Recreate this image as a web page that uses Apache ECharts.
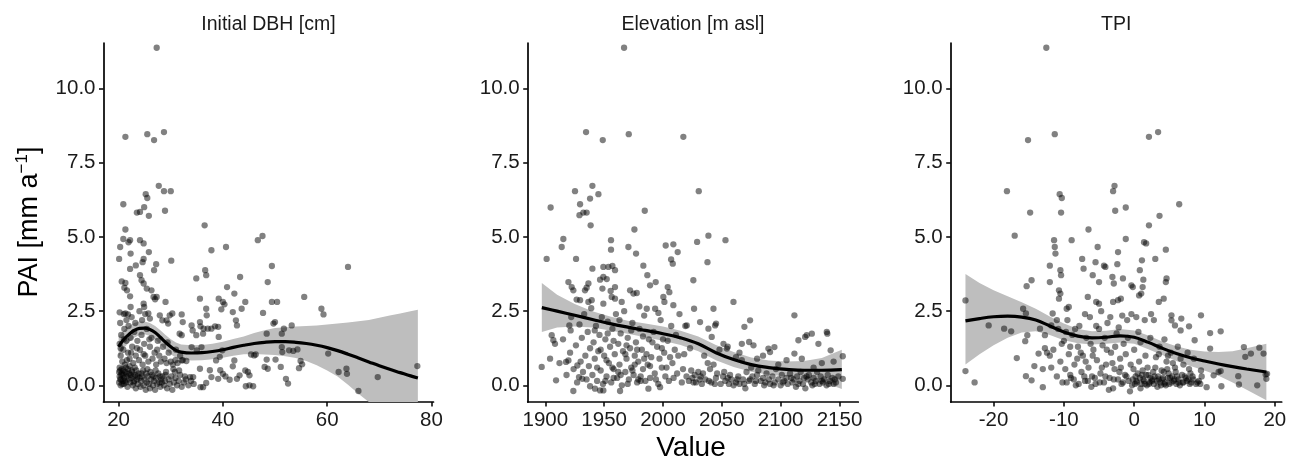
<!DOCTYPE html>
<html><head><meta charset="utf-8">
<script src="https://cdn.jsdelivr.net/npm/echarts@6/dist/echarts.min.js"></script>
<style>html,body{margin:0;padding:0;background:#fff}#c{width:1294px;height:459px}</style>
</head><body><div id="c"></div>
<script>
// ---------------- DATA ----------------
const panelTitles = ["Initial DBH [cm]", "Elevation [m asl]", "TPI"];
const yTicks = [0, 2.5, 5, 7.5, 10];
const dbhTicks = [20, 40, 60, 80];
const elevTicks = [1900, 1950, 2000, 2050, 2100, 2150];
const tpiTicks = [-20, -10, 0, 10, 20];

// Panel 1: Initial DBH vs PAI
const dbhPoints = [
 [27.3,11.37],[21.3,8.37],[25.5,8.46],[26.8,8.26],[28.7,8.53],[27.7,6.72],[28.7,6.54],[30.0,6.54],[20.9,6.1],[25.2,6.44],[25.5,6.31],[28.9,5.88],[23.5,5.82],[24.1,5.84],[24.9,6.0],[25.8,5.71],[21.3,5.25],[20.3,4.66],[20.9,4.93],[21.9,4.82],[22.2,4.89],[24.1,4.89],[24.8,4.78],[25.8,4.49],[22.3,4.44],[20.1,4.26],[23.3,4.04],[24.8,4.26],[24.6,4.15],[27.2,4.08],[26.8,3.88],[30.1,4.2],[22.2,3.92],[24.1,3.71],[24.4,3.54],[24.8,3.43],[20.6,3.5],[21.3,3.45],[21.1,3.29],[21.6,3.2],[22.2,3.0],[25.4,3.26],[26.3,3.2],[26.7,2.98],[29.0,2.81],[27.0,2.9],[27.3,2.98],[24.8,2.75],[24.9,2.64],[22.3,2.64],[20.2,2.46],[21.3,2.42],[21.8,2.39],[25.7,2.42],[26.0,2.25],[27.9,2.36],[28.4,2.19],[29.8,2.36],[30.3,2.42],[29.2,2.19],[29.5,2.08],[32.1,2.39],[32.3,2.13],[34.0,2.02],[34.2,1.85],[35.6,2.13],[35.7,1.99],[31.7,1.74],[32.1,1.69],
 [34.9,3.6],[36.5,5.39],[36.6,3.88],[36.8,3.71],[35.6,2.92],[36.8,2.58],[36.9,2.36],[36.3,1.91],[37.1,1.91],[37.8,4.55],[37.8,1.91],[38.5,1.99],[34.9,1.69],[36.2,1.74],[39.1,1.97],[39.2,1.63],[39.2,2.92],[39.7,2.56],[40.0,2.81],[40.3,2.73],[40.6,4.66],[40.8,3.31],[41.9,2.47],[42.2,3.09],[42.5,2.19],[42.7,2.02],[43.3,3.65],[43.6,2.58],[44.3,2.81],[46.7,4.89],[47.6,5.03],[47.7,2.44],[48.4,1.74],[48.6,3.48],[49.4,4.02],[49.4,2.81],[50.4,2.81],[49.7,2.08],[50.0,2.13],[51.3,1.74],[51.7,1.91],[53.2,2.02],[55.6,2.98],[58.9,2.58],[59.3,2.39],[64.0,3.99],[60.2,1.07],[62.2,0.45],[63.7,0.56],[63.8,0.39],[66.0,-0.19],[69.7,0.28],[77.3,0.65],
 [52.7,1.18],[53.5,1.16],[54.3,1.21],[54.9,0.82],[55.2,0.71],[54.6,0.58],[51.3,1.29],[51.4,1.12],[51.1,0.62],[52.1,0.22],[52.5,0.06],[50.1,0.87],[48.0,0.62],[48.6,0.56],[48.4,0.87],[46.3,1.04],[46.0,1.01],[45.4,1.04],[44.3,0.5],[45.1,0.34],[44.8,0.45],[44.4,-0.03],[45.1,0.0],[45.8,-0.03],[42.2,0.84],[41.9,0.64],[43.2,0.34],[42.7,0.22],[39.9,1.18],[39.4,0.96],[38.7,0.84],[39.5,0.51],[40.0,0.39],[40.5,0.30],[39.1,0.22],[41.3,0.19],[37.8,0.28],[36.8,0.08],[37.5,0.51],[35.6,0.56],[35.7,-0.06],[36.2,-0.06],[34.0,1.29],[35.0,1.18],[35.9,1.29],[33.0,0.82],[32.1,0.84],[34.3,0.28],[33.7,0.28],[32.7,0.30],
 [20.1,0.1],[20.2,0.3],[20.3,0.5],[20.4,0.0],[20.5,0.2],[20.6,0.4],[20.8,0.15],[20.9,0.35],[21.0,0.05],[21.1,0.25],[21.3,0.45],[21.4,0.1],[21.6,0.3],[21.7,-0.05],[21.9,0.2],[22.0,0.4],[22.2,0.1],[22.4,0.25],[22.5,0.5],[22.7,0.0],[22.8,0.3],[23.0,0.15],[23.2,0.35],[23.3,-0.1],[23.5,0.2],[23.7,0.05],[23.8,0.4],[24.0,0.25],[24.2,-0.05],[24.3,0.15],[24.5,0.3],[24.7,0.5],[24.8,0.0],[25.0,0.2],[25.2,-0.15],[25.4,0.1],[25.6,0.3],[25.8,0.05],[26.0,-0.1],[26.2,0.2],[26.4,0.35],[26.6,0.0],[26.8,0.15],[27.0,-0.15],[27.2,0.25],[27.4,0.05],[27.6,0.4],[27.8,0.1],[28.0,-0.05],[28.2,0.2],[28.4,0.3],[28.7,0.0],[28.9,0.15],[29.1,0.45],[29.3,-0.1],[29.6,0.2],[29.8,0.05],[30.1,0.3],[30.3,-0.15],[30.6,0.1],[30.9,0.25],[31.2,0.0],[31.5,0.15],[31.8,0.35],[32.1,-0.05],[32.5,0.1],[32.9,0.2],[33.4,0.0],[33.9,0.15],[34.4,0.05],
 [20.2,1.4],[20.4,1.0],[20.5,1.7],[20.7,0.8],[20.9,1.2],[21.1,1.9],[21.2,0.7],[21.5,1.5],[21.8,1.1],[21.9,2.0],[22.1,0.9],[22.3,1.6],[22.6,1.3],[22.8,0.75],[23.0,1.8],[23.3,1.0],[23.6,1.5],[23.9,0.85],[24.1,1.2],[24.4,1.7],[24.6,0.7],[24.9,1.4],[25.1,1.0],[25.4,1.9],[25.7,0.8],[26.0,1.3],[26.3,1.6],[26.5,0.9],[26.9,1.1],[27.2,0.7],[27.5,1.5],[27.8,1.0],[28.1,0.8],[28.5,1.3],[28.8,0.9],[29.2,0.75],[29.6,1.1],[30.0,0.8],[30.4,0.7],[30.9,0.85],[31.3,0.75],[31.8,1.0],[32.3,0.85],
 [20.3,2.1],[21.0,2.4],[21.5,2.2],[22.5,2.3],[23.2,2.1],[24.0,2.5],[24.5,2.2],[25.1,2.4],[20.2,0.6],[20.6,0.55],[21.4,0.6],[22.1,0.65],[23.1,0.6],[20.3,0.2],[20.7,0.05],[21.2,0.15],[22.3,0.35],[23.6,0.3],[25.3,0.4],[26.7,0.3],[28.3,0.1],[30.8,0.45],[31.6,0.5],
 [20.1,0.45],[20.5,0.35],[20.9,0.5],[21.5,0.4],[21.8,0.55],[22.6,0.45],[22.9,0.1],[23.4,0.5],[24.4,0.4],[25.5,0.55],[26.1,0.45],[27.1,0.5],[27.9,0.3],[29.0,0.35],[30.5,0.55],[20.4,1.25],[21.0,1.55],[21.6,0.85],[22.4,1.1],[23.5,1.25],[24.8,1.05],[25.9,1.55],[27.4,1.2],[29.4,1.45],[31.0,1.2]
];
// smooth fit: [x, fit, lower, upper]
const dbhFit = [
 [20,1.30,0.95,1.65],[21,1.55,1.25,1.85],[22,1.72,1.45,2.0],[23,1.85,1.6,2.1],[24,1.92,1.7,2.15],[25,1.93,1.72,2.15],[26,1.88,1.66,2.1],[27,1.78,1.55,2.0],[28,1.62,1.38,1.86],[29,1.45,1.2,1.7],[30,1.30,1.05,1.55],[31,1.18,0.93,1.44],[32,1.12,0.87,1.38],[34,1.09,0.84,1.35],[36,1.10,0.85,1.36],[38,1.14,0.88,1.40],[40,1.20,0.93,1.47],[42,1.28,1.0,1.56],[44,1.35,1.05,1.65],[46,1.41,1.06,1.76],[48,1.45,1.04,1.86],[50,1.47,1.02,1.93],[52,1.47,0.98,1.96],[54,1.45,0.92,1.98],[56,1.41,0.82,2.0],[58,1.35,0.68,2.02],[60,1.27,0.5,2.05],[62,1.17,0.3,2.08],[64,1.05,0.02,2.12],[66,0.92,-0.28,2.16],[68,0.79,-0.6,2.2],[70,0.66,-0.95,2.28],[72,0.54,-1.3,2.35],[74,0.43,-1.6,2.42],[76,0.32,-1.9,2.5],[77.4,0.25,-2.1,2.55]
];

// Panel 2: Elevation vs PAI
const elevPoints = [
 [1966.9,11.37],[1934.6,8.53],[1948.8,8.26],[1970.9,8.46],[2017.3,8.37],[2030.4,6.54],[1925.2,6.54],[1940.0,6.72],[1929.5,6.10],[1945.1,6.44],[1938,6.29],[1904.5,5.99],[1984.5,5.88],[1929,5.73],[1932.3,5.82],[1935.1,5.82],[1938.5,5.39],[1975.7,5.25],[1915.3,4.93],[1913.9,4.66],[1955.8,4.89],[1955.8,4.57],[1970.6,4.66],[1977.1,4.44],[2002.3,4.71],[2008.8,4.75],[2012.5,4.49],[2029.0,4.83],[2038.6,5.04],[2053.1,4.89],[2037.8,4.15],[2006.9,4.24],[2008.3,4.10],[1901.1,4.26],[1926.1,4.26],[1983.3,4.03],[1940.0,3.93],[1949.3,3.99],[1953.6,3.99],[1957,4.02],[1959.2,3.88],[1986.7,3.71],[1989,3.37],[1993.8,3.48],[2025.8,3.54],[1919.6,3.48],[1922.4,3.31],[1923.8,3.2],[1936.6,3.43],[1935.1,3.29],[1933.7,3.2],[1946.5,3.56],[1949.3,3.65],[1952.2,3.58],[1948.5,3.26],[1955.5,3.18],[1959.2,3.31],[1972,3.2],[1974.9,3.09],[1977.7,3.11],[2004,3.31],[2005.4,3.14],[2000.3,2.98],[2001.2,2.81],[2059.9,2.81],[1926.6,2.89],[1929.5,2.87],[1936.6,2.81],[1939.4,2.87],[1949.3,2.75],[1956.4,2.98],[1959.2,2.92],[1964.9,2.81],[1979.9,2.66],[1986.2,2.58],[1993.3,2.58],[1996.1,2.44],[2008.8,2.70],[2026.4,2.58],[2042.9,2.58],[2069.2,1.97],[2074,2.19],[2111.7,2.36],[2115.1,1.52],[2120.8,1.63],[2122.2,1.69],[2126.5,1.74],[2139.2,1.80],[2139.7,1.74],[2132.1,1.40],[2142.5,1.18],[2152.8,0.98],[2152.8,0.22],[2111.7,1.07],[2094.7,1.29],[2089.6,1.24],[2091,1.12],[2073.2,1.46],[2076.9,1.35],[2067,1.40],[2051.4,1.40],[2054.3,1.24],[2044.3,2.02],[2045.1,2.08],[2038.6,1.91],[2041.4,1.63],[2031.5,2.13],[2020.2,2.02],[1896.9,0.62],[1904,0.9],[1905.4,1.69],[1906.8,1.52],[1908.2,1.40],[1909.1,0.17],[1920.4,2.02],[1921.5,1.85],[1917.6,0.79],[1919.6,0.84],[1923.8,-0.19],[1927.2,0.67],[1928.6,0.28],[1931.4,0.22],[1938,-0.03],[1942.2,-0.11],[1946.5,-0.17],[1949.3,-0.17],[1963.5,-0.19],[1987.6,-0.11],[1997.5,-0.06],
 [1912,0.75],[1915,1.55],[1918,0.35],[1921,1.1],[1922,2.3],[1924,0.55],[1926,1.35],[1927,0.1],[1929,2.05],[1930,0.8],[1931,1.6],[1932,0.45],[1933,2.4],[1934,1.0],[1935,0.2],[1936,1.8],[1937,0.65],[1938,1.25],[1939,2.6],[1940,0.35],[1941,1.45],[1942,0.9],[1943,2.0],[1944,0.15],[1945,1.15],[1946,1.7],[1947,0.5],[1948,2.3],[1949,0.05],[1950,1.0],[1951,1.55],[1952,0.3],[1953,2.15],[1954,0.75],[1955,1.3],[1956,0.1],[1957,1.9],[1958,0.55],[1959,1.05],[1960,2.4],[1961,0.25],[1962,1.4],[1963,0.7],[1964,1.75],[1965,0.0],[1966,1.15],[1967,2.5],[1968,0.45],[1969,0.9],[1970,1.6],[1971,0.2],[1972,1.25],[1973,0.6],[1974,2.1],[1975,0.35],[1976,1.0],[1977,1.45],[1978,0.1],[1979,0.8],[1980,1.9],[1981,0.3],[1982,1.2],[1983,0.55],[1984,2.35],[1985,0.15],[1986,1.05],[1987,0.7],[1988,1.55],[1989,0.25],[1990,0.95],[1992,1.8],[1993,0.4],[1995,1.3],[1996,0.05],[1998,2.2],[1999,0.6],[2001,1.1],[2002,0.3],[2004,1.5],[2005,0.15],[2007,2.0],[2008,0.75],[2010,1.2],[2012,0.4],[2014,2.4],[2016,0.1],[2018,1.05],[2019,2.0],[2020,0.3],[2022,0.15],[2024,0.5],[2025,0.25],[2027,0.35],[2028,0.1],[2030,0.45],[2031,0.2],[2032,0.3],[2033,0.05],[2035,1.0],[2036,0.2],[2038,0.75],[2040,0.55],[2041,0.1],[2043,0.7],[2045,0.25],[2046,0.4],[2048,1.2],[2049,0.05],[2051,0.3],[2053,0.15],[2055,0.25],[2056,0.05],[2058,0.2],[2060,0.0],[2062,0.1],[2064,0.3],[2065,0.05],[2067,0.85],[2068,0.2],[2070,-0.1],[2071,0.45],[2073,0.15],[2075,0.6],[2076,0.3],[2078,0.05],[2080,0.35],[2081,0.5],[2083,0.15],[2085,0.25],[2086,0.0],[2088,0.4],[2090,0.2],[2091,0.05],[2093,0.3],[2095,0.1],[2096,0.55],[2098,0.2],[2100,0.0],[2101,0.35],[2103,0.15],[2105,0.25],[2106,0.05],[2108,0.4],[2110,0.1],[2111,0.2],[2113,-0.05],[2114,0.3],[2116,0.15],[2117,0.45],[2119,0.05],[2120,0.25],[2121,-0.1],[2123,0.2],[2124,0.35],[2126,0.1],[2127,0.0],[2128,0.25],[2130,0.15],[2131,0.45],[2133,0.05],[2134,0.3],[2136,0.1],[2137,0.2],[2139,0.0],[2140,0.35],[2142,0.15],[2144,0.25],[2145,0.05],[2147,0.1],[2149,0.3],
 [2055,1.3],[2062,0.95],[2065,1.1],[2080,0.9],[2085,1.0],[2098,0.7],[2105,0.85],[2118,0.9],[2128,0.6],[2135,0.75],[2145,0.8],
 [1944,0.6],[1952,0.85],[1958,0.25],[1962,0.45],[1968,1.05],[1974,0.5],[1979,0.2],[1984,0.9],[1989,0.65],[1994,0.2],[1999,1.25],[2003,0.6],[2009,0.25],[2013,1.0],[1951,0.15],[1957,0.6],[1964,0.35],[1970,0.05],[1976,0.7],[1981,0.15],
 [1942,1.85],[1947,1.2],[1953,1.75],[1958,1.5],[1963,2.2],[1969,1.35],[1973,1.85],[1978,1.2],[1983,1.65],[1991,1.45],[1997,0.9],[2000,1.55],[2006,0.95],[2011,1.7],[2017,0.55],[2023,1.25],[2026,0.1],[2034,0.4],[2039,0.15],[2044,0.05],[2052,0.45],[2057,0.35],[2063,0.2],[2069,0.05],[2074,0.2],[2079,0.15],[2087,0.1],[2094,0.0],[2102,0.1],[2109,0.25],[2115,0.05],[2122,0.3],[2129,0.05],[2135,0.15],[2141,0.05],[2146,0.2]
];
const elevFit = [
 [1897,2.62,1.80,3.45],[1910,2.50,1.95,3.05],[1925,2.36,1.98,2.74],[1940,2.22,1.95,2.50],[1955,2.08,1.85,2.32],[1970,1.96,1.74,2.18],[1985,1.85,1.62,2.08],[2000,1.74,1.50,1.98],[2015,1.60,1.36,1.84],[2030,1.40,1.15,1.65],[2045,1.10,0.85,1.36],[2060,0.87,0.62,1.12],[2075,0.70,0.46,0.94],[2090,0.60,0.36,0.84],[2105,0.54,0.30,0.80],[2120,0.51,0.22,0.82],[2135,0.51,0.12,0.92],[2152,0.53,-0.12,1.20]
];

// Panel 3: TPI vs PAI
const tpiPoints = [
 [-12.5,11.37],[-15.1,8.26],[-11.3,8.46],[2.1,8.37],[3.4,8.53],[-18.1,6.54],[-10.6,6.44],[-10.3,6.31],[-2.8,6.72],[-3.0,6.54],[6.4,6.10],[-14.8,5.82],[-10.4,5.82],[-2.7,5.88],[-1.2,5.99],[3.6,5.71],[2.1,5.39],[-17.0,5.04],[-6.5,5.25],[-11.4,4.89],[-11.3,4.66],[-11.2,4.44],[-8.9,4.89],[-5.2,4.66],[-1.2,4.93],[1.4,4.82],[1.7,4.78],[-2.3,4.49],[4.5,4.57],[-7.4,4.26],[-5.5,4.15],[-4.3,4.03],[-4.1,3.99],[-2.4,4.08],[1.1,4.21],[3.0,4.26],[-12.0,4.03],[-10.5,3.88],[-10.4,3.71],[-7.2,3.93],[-5.9,3.71],[0.8,3.88],[-14.6,3.54],[-15.3,3.34],[-12.0,3.48],[-5.0,3.48],[-3.1,3.65],[-2.9,3.43],[-1.6,3.60],[-0.4,3.37],[-0.2,3.31],[1.3,3.56],[1.2,3.31],[1.0,3.09],[4.6,3.60],[4.5,3.48],[-10.7,3.2],[-10.5,3.09],[-10.7,2.92],[-6.6,2.98],[-5.4,2.81],[-5.0,2.75],[-3.0,2.81],[-2.3,2.87],[-1.9,2.92],[0.7,3.03],[4.2,2.92],[3.5,2.81],[-24.0,2.86],[-24.0,0.48],[-22.7,0.10],[-20.7,2.02],[-18.5,1.91],[-17.5,1.82],[-16.7,0.92],[-15.8,2.58],[-15.4,2.42],[-15.5,1.49],[-15.2,1.69],[-15.4,0.31],[-14.6,0.17],[-13.4,1.91],[-13.6,1.07],[-14.2,0.65],[-13.0,-0.06],[-12.7,1.69],[-11.6,2.42],[-11.8,2.02],[-9.6,2.58],[-9.3,2.64],[9.5,2.36],[10.8,1.76],[12.3,1.82],[8.6,1.52],[7.8,1.99],[6.7,2.25],[6.6,1.85],[5.8,2.02],[5.3,2.36],[5.3,2.19],[15.6,1.29],[15.8,0.96],[16.6,1.07],[17.8,1.27],[18.4,1.07],[18.7,0.37],[17.5,0.0],[18.8,0.22],[18.9,0.39],[14.8,0.31],[14.9,0.03],[12.4,-0.03],[10.8,1.24],[10.3,-0.06],[11.3,0.34],[12.0,0.45],[12.3,0.48],
 [-11.5,1.2],[-11,0.3],[-10.8,1.9],[-10.5,0.8],[-10.2,0.1],[-10,1.5],[-9.8,0.55],[-9.5,2.2],[-9.3,1.05],[-9,0.25],[-8.8,1.7],[-8.5,0.7],[-8.3,0.0],[-8,1.3],[-7.8,2.0],[-7.5,0.45],[-7.3,1.0],[-7,0.15],[-6.8,1.6],[-6.5,0.6],[-6.3,2.3],[-6,0.3],[-5.8,1.2],[-5.5,0.05],[-5.3,0.85],[-5,1.9],[-4.8,0.4],[-4.5,1.35],[-4.3,0.1],[-4,0.7],[-3.8,2.1],[-3.5,0.25],[-3.3,1.1],[-3,-0.1],[-2.8,0.55],[-2.5,1.75],[-2.3,0.2],[-2,0.9],[-1.8,0.05],[-1.5,1.4],[-1.3,0.35],[-1,2.2],[-0.8,0.15],[-0.5,0.7],[-0.3,0.0],[0,1.2],[0.2,0.3],[0.4,0.1],[0.6,1.8],[0.8,0.25],[1,0.05],[1.2,0.5],[1.4,0.15],[1.6,1.0],[1.8,0.0],[2,0.35],[2.2,0.1],[2.4,2.4],[2.6,0.2],[2.8,0.05],[3,0.6],[3.2,0.15],[3.4,0.3],[3.6,1.3],[3.8,0.0],[4,0.2],[4.2,0.45],[4.4,0.1],[4.6,0.8],[4.8,0.25],[5,0.05],[5.2,1.1],[5.4,0.3],[5.6,0.15],[5.8,0.6],[6,0.05],[6.3,0.2],[6.6,0.9],[6.9,0.1],[7.2,0.3],[7.5,0.15],[7.8,0.55],[8.1,0.1],[8.4,0.2],[8.8,0.05],[9.2,0.15],[9.6,0.3],
 [-9.6,0.1],[-9.1,0.35],[-8.6,0.2],[-7.9,0.05],[-7.1,0.3],[-6.6,0.15],[-6.1,-0.05],[-5.6,0.25],[-4.9,0.1],[-4.1,0.3],[-3.6,-0.15],[-2.9,0.2],[-2.1,0.45],[-1.6,0.1],[-1.1,0.3],[-0.6,-0.2],[0.1,0.05],[0.5,0.4],[0.9,-0.1],[1.3,0.2],[1.7,0.35],[2.1,0.05],[2.5,0.15],[2.9,0.3],[3.3,-0.05],[3.7,0.1],[4.1,0.25],[4.5,0.0],[4.9,0.4],[5.3,0.1],[5.7,0.2],[6.1,0.3],[6.5,0.0],[7,0.1],[7.4,0.25],[7.9,0.05],[8.3,0.3],[9,0.1],
 [-12,1.0],[-11.8,0.6],[-12.4,1.1],[-13,0.55],[-12.7,1.25],[-11,2.2],[-10.3,1.4],[-9.7,1.8],[-9.1,1.3],[-8.4,1.9],[-7.6,1.1],[-7,2.4],[-6.2,1.4],[-5.4,2.0],[-4.7,2.5],[-4.2,1.6],[-3.4,2.3],[-2.7,1.3],[-2.2,1.95],[-1.7,2.35],[-0.9,1.6],[-0.4,2.4],[0.3,2.3],[0.9,1.45],[1.5,2.2],[2.3,1.6],[2.8,2.2],[3.5,1.05],[4.3,1.55],[4.8,1.0],[5.5,0.75],[6.2,1.3],[7,0.7],[7.6,1.1],[8.5,0.9],[9.5,0.5],
 [-8.1,0.9],[-6.9,0.8],[-5.9,1.0],[-4.6,0.6],[-3.9,1.2],[-3.1,0.75],[-1.9,0.6],[-1.2,1.05],[-0.1,0.55],[0.7,0.8],[1.9,0.6],[2.7,0.45],[3.1,0.95],[3.9,0.5],[4.7,0.55],[5.9,0.45],[6.8,0.35],[8.0,0.4],[-0.2,0.2],[0.3,0.15],[1.1,0.35],[1.5,0.05],[2.3,0.25],[3.5,0.2],[4.3,0.05],[5.1,0.25],[6.3,0.1],[7.7,0.2],[9.4,0.05]
];
const tpiFit = [
 [-24,2.17,0.70,3.75],[-22,2.25,1.05,3.45],[-20,2.31,1.35,3.20],[-18,2.33,1.60,3.00],[-16,2.30,1.78,2.80],[-14,2.20,1.82,2.58],[-12,2.00,1.70,2.32],[-10,1.80,1.52,2.08],[-8,1.66,1.42,1.90],[-6,1.60,1.38,1.82],[-4,1.62,1.40,1.84],[-2,1.67,1.44,1.90],[0,1.62,1.40,1.85],[2,1.45,1.22,1.68],[4,1.25,1.02,1.48],[6,1.07,0.82,1.32],[8,0.93,0.65,1.20],[10,0.82,0.50,1.14],[12,0.72,0.32,1.12],[14,0.63,0.10,1.15],[16,0.55,-0.15,1.25],[18.8,0.45,-0.50,1.40]
];

// ---------------- CHART ----------------
const Y_MIN = -0.56, Y_MAX = 11.53;
const FONT = "'Liberation Sans', Arial, sans-serif";
const panels = [
 {left:103.5, width:330, xmin:17.1, xmax:80.4, ticks:dbhTicks, pts:dbhPoints, fit:dbhFit, cx:268.5},
 {left:527.7, width:330.6, xmin:1885, xmax:2166, ticks:elevTicks, pts:elevPoints, fit:elevFit, cx:693},
 {left:950.7, width:331, xmin:-26.1, xmax:20.98, ticks:tpiTicks, pts:tpiPoints, fit:tpiFit, cx:1116.2}
];
const chart = echarts.init(document.getElementById('c'), null, {renderer:'canvas'});
const grid = [], xAxis = [], yAxis = [], series = [], graphic = [];
const axisLine = {show:true, onZero:false, lineStyle:{color:'#000', width:1.7}};
const axisTick = {show:true, length:4.5, lineStyle:{color:'#000', width:1.5}};
panels.forEach((p, i) => {
 grid.push({left:p.left, top:43, width:p.width, height:359, containLabel:false});
 xAxis.push({type:'value', gridIndex:i, min:p.xmin, max:p.xmax, axisLine,
   axisTick:Object.assign({customValues:p.ticks}, axisTick), splitLine:{show:false},
   axisLabel:{customValues:p.ticks, color:'#1a1a1a', fontSize:20.5, fontFamily:FONT, margin:8,
     formatter:v => String(v)}});
 yAxis.push({type:'value', gridIndex:i, min:Y_MIN, max:Y_MAX, axisLine,
   axisTick:Object.assign({customValues:yTicks}, axisTick), splitLine:{show:false},
   axisLabel:{customValues:yTicks, color:'#1a1a1a', fontSize:20.5, fontFamily:FONT, margin:8,
     formatter:v => v.toFixed(1)}});
 const fit = p.fit;
 series.push({type:'custom', xAxisIndex:i, yAxisIndex:i, silent:true, z:1,
   data:[[fit[0][0], fit[0][1]]],
   renderItem:(params, api) => {
     const top = fit.map(r => api.coord([r[0], r[3]]));
     const bot = fit.slice().reverse().map(r => api.coord([r[0], Math.max(r[2], Y_MIN)]));
     return {type:'polygon', shape:{points:top.concat(bot)}, style:{fill:'#bebebe'}};
   }});
 series.push({type:'scatter', xAxisIndex:i, yAxisIndex:i, data:p.pts, symbolSize:6.3, z:2, silent:true,
   itemStyle:{color:'rgba(0,0,0,0.62)'}});
 series.push({type:'line', xAxisIndex:i, yAxisIndex:i, data:fit.map(r => [r[0], r[1]]), smooth:0.4,
   showSymbol:false, symbol:'none', z:3, silent:true, lineStyle:{color:'#000', width:3.2}});
 graphic.push({type:'text', x:p.cx, y:25, style:{text:panelTitles[i], fontSize:19.5, fontFamily:FONT,
   fill:'#1a1a1a', align:'center', verticalAlign:'middle'}});
});
graphic.push({type:'text', x:30, y:222, rotation:Math.PI/2, style:{
  text:'{a|PAI [mm a}{s|−1}{a|]}', align:'center', verticalAlign:'middle', fill:'#000',
  rich:{a:{fontSize:27, fontFamily:FONT, fill:'#000', lineHeight:32}, s:{fontSize:17, fontFamily:FONT, fill:'#000', verticalAlign:'top', lineHeight:32}}}});
graphic.push({type:'text', x:691, y:448, style:{text:'Value', fontSize:28, fontFamily:FONT, fill:'#000', align:'center', verticalAlign:'middle'}});
chart.setOption({animation:false, backgroundColor:'#fff', grid, xAxis, yAxis, series, graphic});
</script></body></html>
